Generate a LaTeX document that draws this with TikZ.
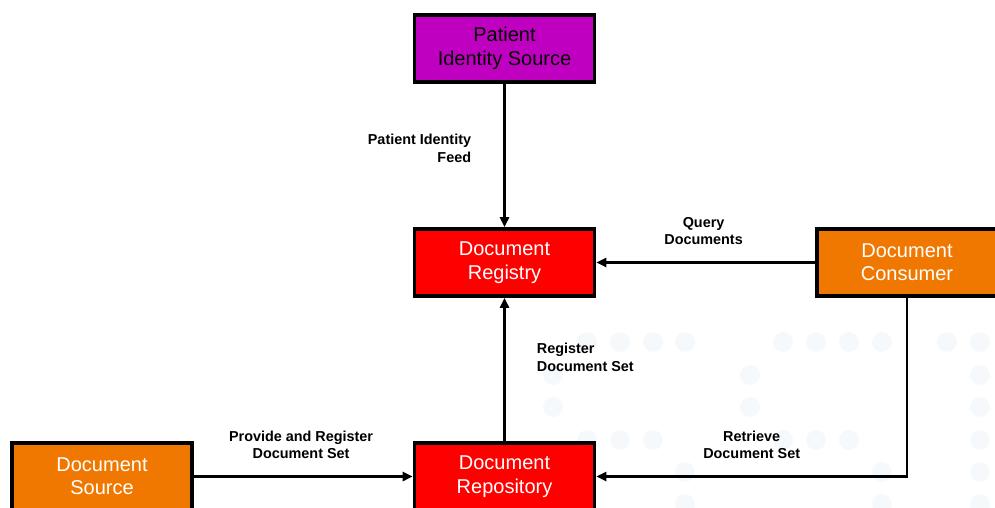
\documentclass[tikz,border=0pt]{standalone}
\usepackage{fontspec}
\setmainfont{Liberation Sans}
\usetikzlibrary{arrows.meta}

\definecolor{pisMagenta}{RGB}{192,0,192}
\definecolor{regRed}{RGB}{255,0,0}
\definecolor{actOrange}{RGB}{240,120,0}
\definecolor{dotGray}{RGB}{246,249,251}

\begin{document}
\begin{tikzpicture}
[x=0.5pt,y=-0.5pt,
  boxDecorate/.style={shape=rectangle,draw,line width=1.8pt,minimum width=90pt,
    minimum height=33.5pt,inner sep=0pt,align=center,font=\fontsize{10}{11.7}\selectfont},%
  pisDecorate/.style={boxDecorate,fill=pisMagenta,text=black},%
  regDecorate/.style={boxDecorate,fill=regRed,text=white},%
  actDecorate/.style={boxDecorate,fill=actOrange,text=white},%
  lineDecorate/.style={-{Triangle[length=5pt,width=4.5pt]},line width=1.4pt},%
  labelDecorate/.style={inner sep=0pt,font=\fontsize{7.2}{8.6}\selectfont\bfseries}]
\useasboundingbox (0,0) rectangle (995,508);
%% background dots
\foreach \x/\y in {
  587/342, 620/342, 653/342, 685/342, 783/342, 816/342, 849/342, 882/342,
  947/342, 980/342,
  553/375, 750/375, 980/375, 553/407, 750/407, 980/407,
  587/440, 620/440, 653/440, 783/440, 816/440, 849/440, 980/440,
  685/472, 882/472, 980/472, 685/504, 882/504, 980/504}
{
  \fill[dotGray] (\x,\y) circle (10);
}
%% actors
\foreach \nodename/\x/\y/\kind/\txt in {
  pis/504.5/48.5/pisDecorate/{Patient\\Identity Source},
  reg/504.5/262.5/regDecorate/{Document\\Registry},
  cons/907/262.5/actDecorate/{Document\\Consumer},
  src/102/476.5/actDecorate/{Document\\Source},
  repo/504.5/476.5/regDecorate/{Document\\Repository}}
{
  \node (\nodename) at (\x,\y) [\kind] {\txt};
}
%% transactions
\path
  (pis) edge[lineDecorate] node[labelDecorate,pos=0.45,anchor=east,
    xshift=-16pt,align=right] {Patient Identity\\Feed} (reg)
  (cons) edge[lineDecorate] node[labelDecorate,pos=0.51,anchor=south,
    yshift=8pt,align=center] {Query\\Documents} (reg)
  (repo) edge[lineDecorate] node[labelDecorate,pos=0.585,anchor=west,
    xshift=15.5pt,align=left] {Register\\Document Set} (reg)
  (src) edge[lineDecorate] node[labelDecorate,pos=0.49,anchor=south,
    yshift=8pt,align=center] {Provide and Register\\Document Set} (repo);
\draw[lineDecorate] (cons) |- node[labelDecorate,pos=0.75,anchor=south,
    yshift=8pt,align=center] {Retrieve\\Document Set} (repo);
\end{tikzpicture}
\end{document}
